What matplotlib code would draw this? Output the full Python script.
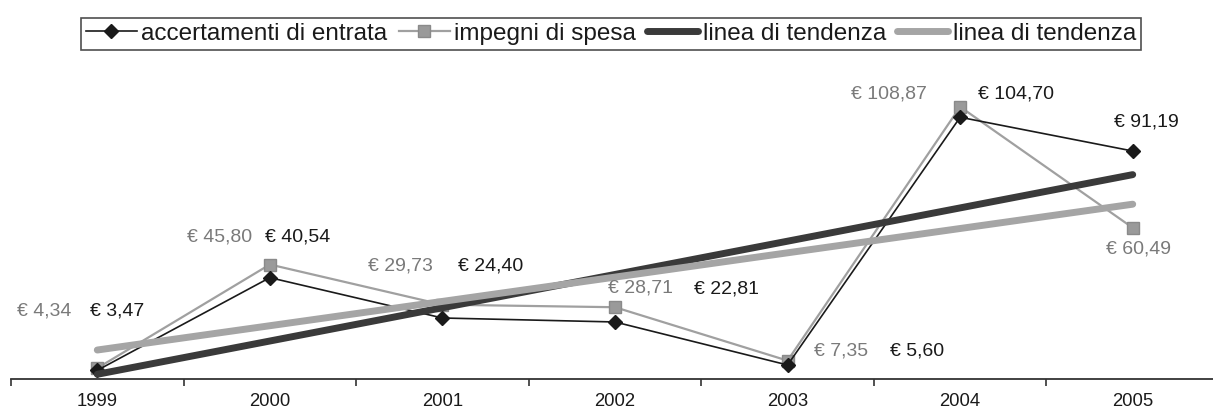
import numpy as np
import matplotlib.pyplot as plt
from matplotlib.ticker import FixedLocator

plt.rcParams['font.family'] = ['Liberation Sans', 'DejaVu Sans']

# Data
years = ['1999', '2000', '2001', '2002', '2003', '2004', '2005']
entrata = [3.47, 40.54, 24.40, 22.81, 5.60, 104.70, 91.19]   # accertamenti di entrata
spesa = [4.34, 45.80, 29.73, 28.71, 7.35, 108.87, 60.49]     # impegni di spesa

# label offsets in pixels (dx, dy up) - layout only
off_spesa = [(-53, 57), (-50, 28), (-42, 39), (26, 19), (53, 10), (-71, 13), (6, -21)]
off_entrata = [(20, 59), (28, 41), (48, 52), (112, 33), (129, 14), (56, 23), (14, 29)]

x = np.arange(len(years))
fit_e = np.polyval(np.polyfit(x, entrata, 1), x)
fit_s = np.polyval(np.polyfit(x, spesa, 1), x)

fig = plt.figure(figsize=(12.13, 4.11), dpi=100)
ax = fig.add_axes([11 / 1213, 32 / 411, 1208 / 1213, 300 / 411])

l1, = ax.plot(x, entrata, color='#1a1a1a', lw=1.2, marker='D', ms=7,
              mfc='#1a1a1a', mec='#1a1a1a', zorder=3)
l2, = ax.plot(x, spesa, color='#a0a0a0', lw=1.6, marker='s', ms=8.5,
              mfc='#9a9a9a', mec='#8a8a8a', zorder=2)
t1, = ax.plot(x, fit_e, color='#3a3a3a', lw=5, solid_capstyle='round', zorder=4)
t2, = ax.plot(x, fit_s, color='#a5a5a5', lw=5, solid_capstyle='round', zorder=4)

def euro(v):
    return '€ ' + f'{v:.2f}'.replace('.', ',')

for i in range(len(years)):
    ax.annotate(euro(spesa[i]), (x[i], spesa[i]), xytext=off_spesa[i],
                textcoords='offset pixels', ha='center', va='center',
                fontsize=14, color='#7a7a7a', zorder=5)
    ax.annotate(euro(entrata[i]), (x[i], entrata[i]), xytext=off_entrata[i],
                textcoords='offset pixels', ha='center', va='center',
                fontsize=14, color='#1a1a1a', zorder=5)

ax.set_xlim(-0.5, 6.5)
ax.set_ylim(0, 120)
ax.set_xticks(x)
ax.set_xticklabels(years, fontsize=13.3, color='#1a1a1a')
ax.xaxis.set_minor_locator(FixedLocator(np.arange(-0.5, 7, 1)))
ax.tick_params(axis='x', which='major', length=0, pad=10)
ax.tick_params(axis='x', which='minor', length=5, width=1.2, direction='out', color='#333333')
ax.set_yticks([])
for s in ['top', 'right', 'left']:
    ax.spines[s].set_visible(False)
ax.spines['bottom'].set_color('#333333')
ax.spines['bottom'].set_linewidth(1.3)

leg = fig.legend([l1, l2, t1, t2],
                 ['accertamenti di entrata', 'impegni di spesa',
                  'linea di tendenza', 'linea di tendenza'],
                 loc='center', bbox_to_anchor=(611 / 1213, 1 - 34 / 411),
                 ncol=4, fontsize=17.5, frameon=True, fancybox=False,
                 handlelength=2.1, handletextpad=0.2, columnspacing=0.45,
                 borderpad=0.2, borderaxespad=0)
leg.get_frame().set_edgecolor('#222222')
leg.get_frame().set_linewidth(1.2)
for t in leg.get_texts():
    t.set_color('#1a1a1a')

fig.savefig('out.png', dpi=100)
